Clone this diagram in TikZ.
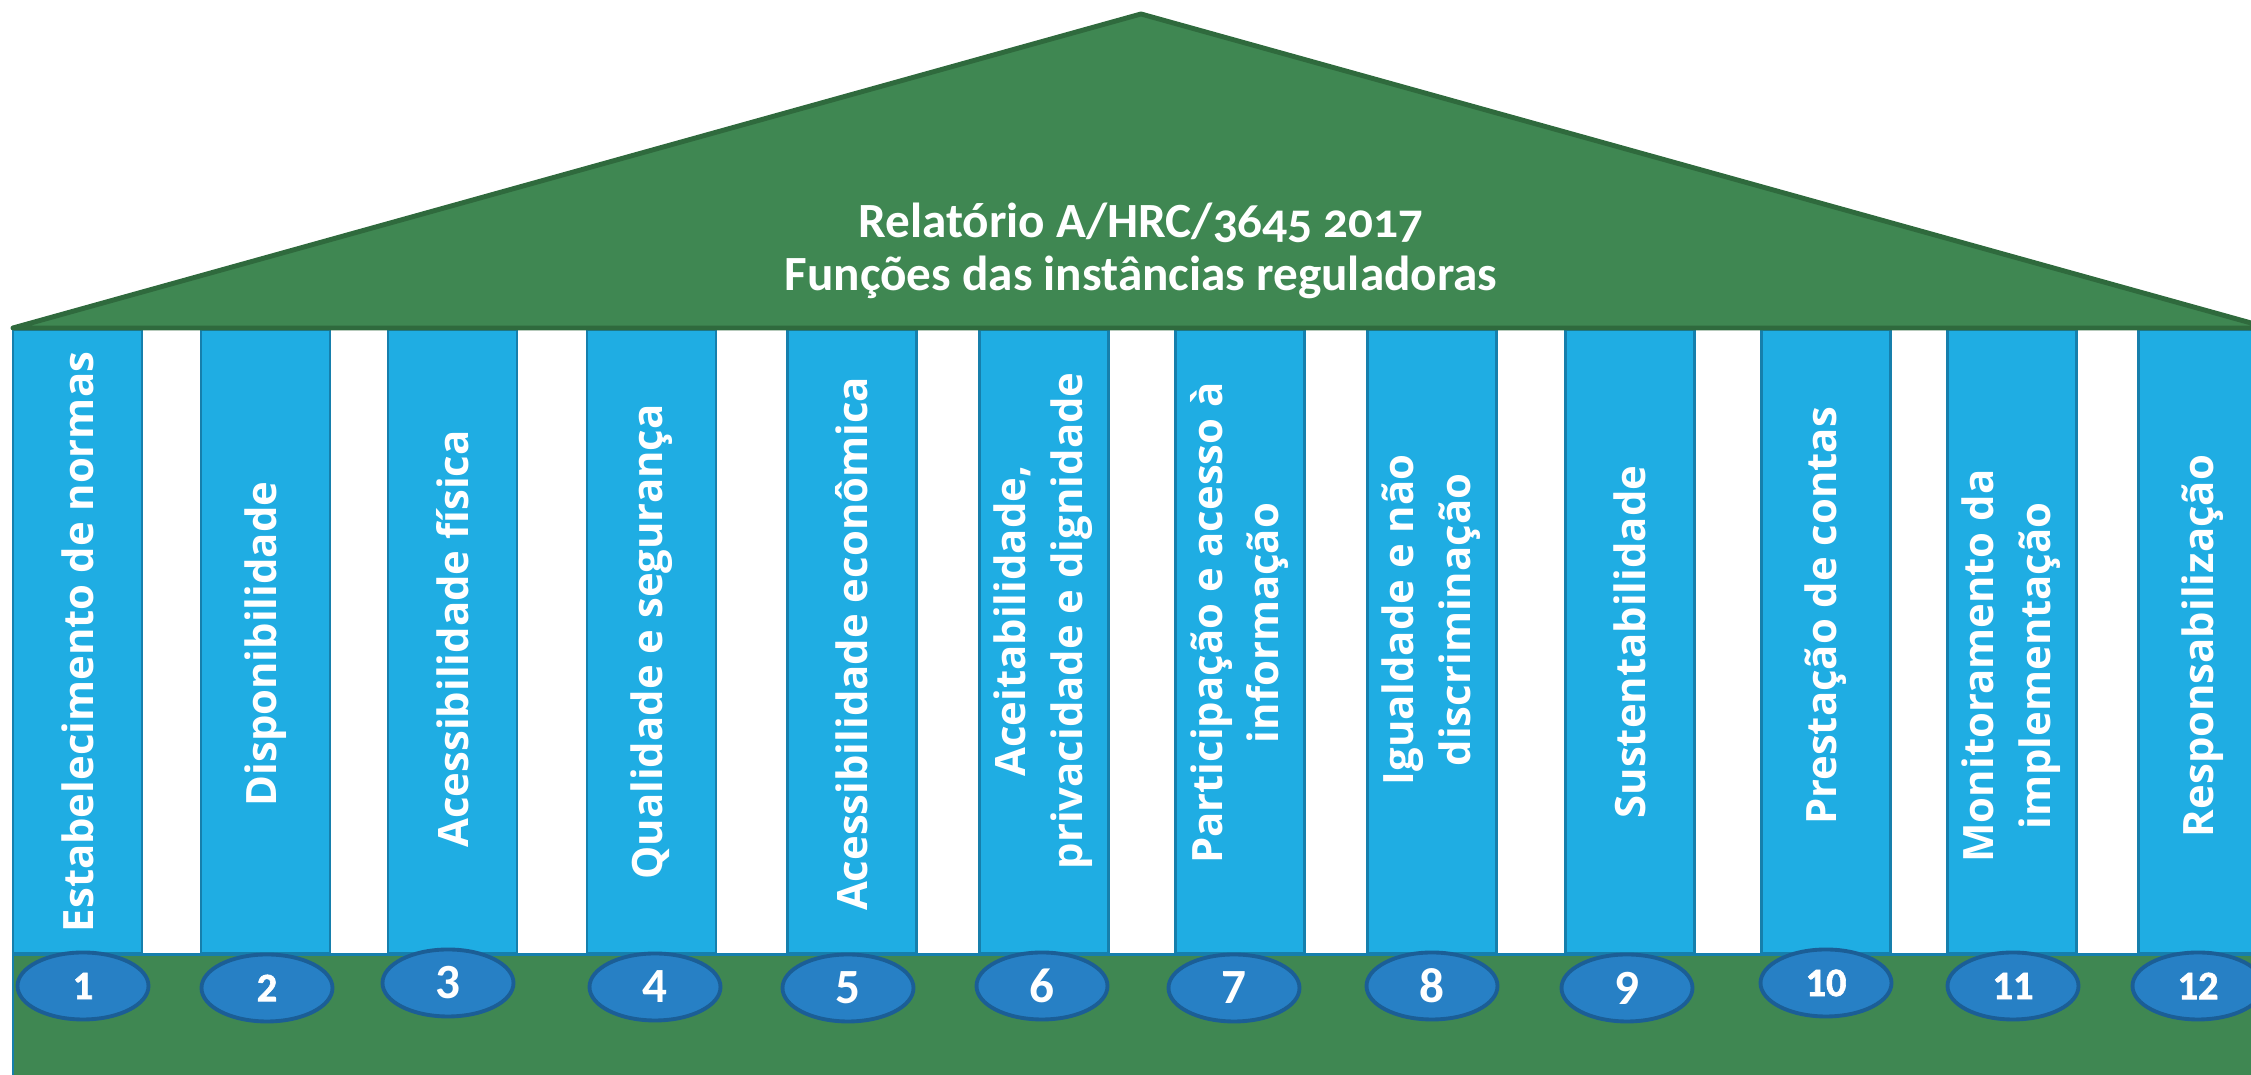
\documentclass[tikz,border=0pt]{standalone}
\usepackage{fontspec}
\setmainfont{Open Sans}
\newfontfamily\tituloFont[Numbers=OldStyle]{Carlito}
\newfontfamily\numFont{Carlito}
\newfontfamily\numFontLargo[FakeBold=1.5]{Carlito}
\usepackage{tikz}
\usetikzlibrary{positioning, shapes.geometric}
\definecolor{verdeTeto}{HTML}{3F8752}
\definecolor{verdeBorda}{HTML}{2F6A3D}
\definecolor{azulColuna}{HTML}{1FADE3}
\definecolor{azulBorda}{HTML}{167FAC}
\definecolor{azulNum}{HTML}{2780C5}
\definecolor{azulNumBorda}{HTML}{1B5E96}

\begin{document}
\begin{tikzpicture}[
  coluna/.style={fill=azulColuna, draw=azulBorda, line width=0.85pt},
  rotulo/.style={text=white, rotate=90, align=center, font=\fontsize{11.9}{16.2}\selectfont\bfseries},
  numero/.style={ellipse, fill=azulNum, draw=azulNumBorda, line width=1.1pt,
    minimum width=1.31cm, minimum height=0.67cm, inner sep=0pt,
    text=white, font=\numFont\fontsize{14}{14}\selectfont\bfseries},
  numpeq/.style={font=\numFontLargo\fontsize{11.5}{11.5}\selectfont\bfseries}
]
  \useasboundingbox (0,0) rectangle (22.51,10.75);

  % --- Colunas (12) ---
  \foreach \i/\xl/\yt/\txt in {
      1/0.13/4.33/{Estabelecimento de normas},
      2/2.01/4.31/{Disponibilidade},
      3/3.88/4.36/{Acessibilidade física},
      4/5.87/4.33/{Qualidade e segurança},
      5/7.87/4.31/{Acessibilidade econômica},
      6/9.79/4.54/{Aceitabilidade,\\ privacidade e dignidade},
      7/11.75/4.52/{Participação e acesso à\\ informação},
      8/13.67/4.55/{Igualdade e não\\ discriminação},
      9/15.65/4.33/{Sustentabilidade},
      10/17.61/4.59/{Prestação de contas},
      11/19.47/4.09/{Monitoramento da\\ implementação},
      12/21.38/4.29/{Responsabilização}}
  {
    \filldraw[coluna] (\xl, 1.21) rectangle ++(1.29, 6.24);
    \node[rotulo] (col\i) at (\xl+0.645, \yt) {\txt};
  }

  % --- Base ---
  \filldraw[fill=verdeTeto, draw=azulBorda, line width=0.85pt] (0.13, -0.2) rectangle (22.8, 1.20);

  % --- Teto ---
  \filldraw[fill=verdeTeto, draw=verdeBorda, line width=1.4pt, line join=round]
    (0.13, 7.47) -- (11.41, 10.61) -- (22.69, 7.47) -- cycle;
  \node[text=white, align=center, font=\tituloFont\fontsize{14}{15}\selectfont\bfseries] (titulo)
    at (11.41, 8.24) {Relatório A/HRC/3645 2017\\ Funções das instâncias reguladoras};

  % --- Numeros ---
  \foreach \i/\x/\y in {1/0.83/0.89, 2/2.67/0.87, 10/18.26/0.92, 11/20.13/0.89, 12/21.98/0.89}
    \node[numero, numpeq] (num\i) at (\x, \y) {\i};
  \foreach \i/\x/\y in {3/4.48/0.92, 4/6.55/0.88, 5/8.48/0.87, 6/10.42/0.89,
                        7/12.34/0.87, 8/14.32/0.89, 9/16.27/0.87}
    \node[numero] (num\i) at (\x, \y) {\i};
\end{tikzpicture}
\end{document}
